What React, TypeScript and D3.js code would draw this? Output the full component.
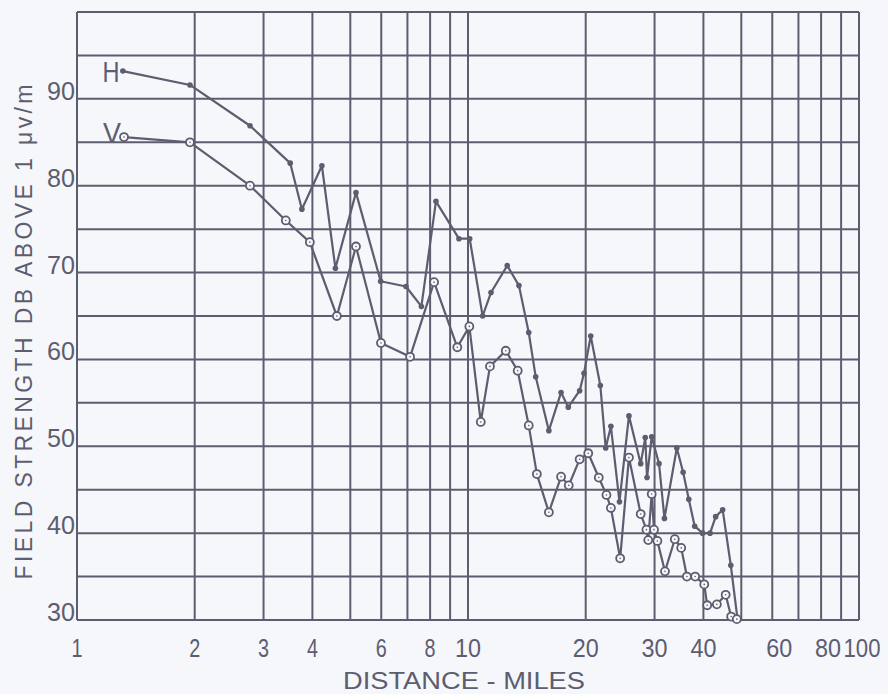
import React from "react";
import * as d3 from "d3";

const W = 888;
const H = 694;

// Horizontal polarization (filled dots)
const hDist = [1.31, 1.945, 2.77, 3.51, 3.76, 4.23, 4.58, 5.17, 5.98, 6.94, 7.6, 8.28, 9.48, 10.1, 10.9, 11.45, 12.6, 13.5, 14.3, 14.9, 16.1, 17.3, 18.05, 19.3, 19.8, 20.6, 21.8, 22.5, 23.2, 24.4, 25.8, 27.65, 28.4, 28.7, 29.5, 30.8, 31.8, 34.2, 35.5, 36.7, 38.0, 39.8, 41.6, 43.0, 44.8, 47.0, 48.9];
const hDb = [93.2, 91.6, 86.9, 82.6, 77.3, 82.3, 70.5, 79.2, 69.0, 68.4, 66.1, 78.2, 73.9, 73.9, 65.0, 67.7, 70.8, 68.5, 63.1, 58.0, 51.8, 56.2, 54.5, 56.4, 58.4, 62.7, 57.0, 49.8, 52.3, 43.6, 53.5, 48.0, 51.0, 46.4, 51.1, 48.0, 41.7, 49.8, 47.0, 43.9, 40.8, 40.0, 40.0, 41.9, 42.7, 36.3, 30.1];

// Vertical polarization (open circles)
const vDist = [1.319, 1.945, 2.77, 3.42, 3.94, 4.62, 5.17, 5.99, 7.11, 8.19, 9.39, 10.08, 10.78, 11.38, 12.49, 13.4, 14.3, 15.0, 16.1, 17.3, 18.1, 19.3, 20.3, 21.6, 22.6, 23.2, 24.5, 25.8, 27.65, 28.6, 28.9, 29.5, 29.9, 30.5, 31.9, 33.8, 35.1, 36.3, 38.1, 40.2, 40.9, 43.3, 45.6, 47.1, 48.7];
const vDb = [85.6, 85.0, 80.0, 76.0, 73.5, 65.0, 73.0, 61.9, 60.3, 68.9, 61.4, 63.8, 52.8, 59.2, 61.0, 58.7, 52.4, 46.8, 42.4, 46.5, 45.5, 48.5, 49.2, 46.4, 44.4, 42.9, 37.1, 48.7, 42.2, 40.4, 39.2, 44.5, 40.4, 39.1, 35.6, 39.3, 38.3, 35.0, 35.0, 34.1, 31.7, 31.8, 32.9, 30.4, 30.1];

const xGrid = [1, 2, 3, 4, 5, 6, 7, 8, 9, 10, 20, 30, 40, 50, 60, 70, 80, 90, 100];
const xTickLabels = [1, 2, 3, 4, 6, 8, 10, 20, 30, 40, 60, 80, 100];
const yGrid = [30, 35, 40, 45, 50, 55, 60, 65, 70, 75, 80, 85, 90, 95, 100];
const yTickLabels = [30, 40, 50, 60, 70, 80, 90];

const INK = "#5d5d70";
const BG = "#f5f7fb";
const FONT = "'Liberation Sans', 'DejaVu Sans', sans-serif";

export default function App() {
  const x = d3.scaleLog().domain([1, 100]).range([77, 859]);
  const y = d3.scaleLinear().domain([30, 100]).range([620, 12]);

  const hPts: [number, number][] = hDist.map((d, i) => [x(d), y(hDb[i])]);
  const vPts: [number, number][] = vDist.map((d, i) => [x(d), y(vDb[i])]);
  const line = d3.line();

  const lblW = (t: number) => String(t).length * 11 + (t >= 10 ? 4 : 0);
  const lblDx = (t: number) => (t === 100 ? 3 : t >= 60 ? 7 : 0);

  return (
    <svg
      width={W}
      height={H}
      style={{ position: "absolute", left: 0, top: 0, display: "block" }}
    >
      <rect x={0} y={0} width={W} height={H} fill={BG} />
      <g stroke={INK} strokeWidth={2} fill="none">
        {xGrid.map((g) => (
          <line key={"x" + g} x1={x(g)} x2={x(g)} y1={y(30)} y2={y(100)} />
        ))}
        {yGrid.map((g) => (
          <line key={"y" + g} x1={x(1)} x2={x(100)} y1={y(g)} y2={y(g)} />
        ))}
      </g>
      <g fill={INK} fontFamily={FONT} fontSize={25}>
        {xTickLabels.map((t) => (
          <text
            key={"xl" + t}
            x={x(t) + lblDx(t)}
            y={657}
            textAnchor="middle"
            textLength={lblW(t)}
            lengthAdjust="spacingAndGlyphs"
          >
            {t}
          </text>
        ))}
        {yTickLabels.map((t) => (
          <text
            key={"yl" + t}
            x={75}
            y={y(t) + 1}
            textAnchor="end"
            textLength={28}
            lengthAdjust="spacingAndGlyphs"
          >
            {t}
          </text>
        ))}
        <text x={464} y={689} textAnchor="middle" fontSize={24} textLength={242} lengthAdjust="spacingAndGlyphs">
          DISTANCE - MILES
        </text>
        <text
          transform="translate(32,332) rotate(-90)"
          textAnchor="middle"
          fontSize={23}
          textLength={495}
          lengthAdjust="spacing"
        >
          FIELD STRENGTH  DB ABOVE  1  μv/m
        </text>
        <text x={111} y={82} textAnchor="middle" fontSize={30} textLength={17} lengthAdjust="spacingAndGlyphs">H</text>
        <text x={112} y={143} textAnchor="middle" fontSize={30} textLength={18} lengthAdjust="spacingAndGlyphs">V</text>
      </g>
      <path d={line(hPts) || ""} fill="none" stroke={INK} strokeWidth={2.2} strokeLinejoin="round" />
      <path d={line(vPts) || ""} fill="none" stroke={INK} strokeWidth={2.2} strokeLinejoin="round" />
      {hPts.map((p, i) => (
        <circle key={"h" + i} cx={p[0]} cy={p[1]} r={2.8} fill={INK} />
      ))}
      {vPts.map((p, i) => (
        <g key={"v" + i}>
          <circle cx={p[0]} cy={p[1]} r={4} fill={BG} stroke={INK} strokeWidth={1.8} />
          <circle cx={p[0]} cy={p[1]} r={0.8} fill={INK} />
        </g>
      ))}
    </svg>
  );
}
